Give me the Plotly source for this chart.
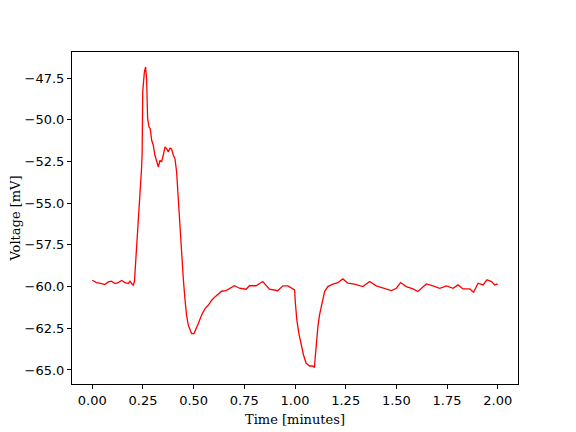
import plotly.graph_objects as go

# values
time_min = [
    0.000, 0.021, 0.046, 0.062, 0.079, 0.095, 0.112, 0.128, 0.145, 0.161,
    0.178, 0.186, 0.194, 0.202, 0.208, 0.211, 0.219, 0.227, 0.235, 0.243,
    0.246, 0.249, 0.257, 0.263, 0.268, 0.273, 0.280, 0.286, 0.293, 0.301,
    0.309, 0.317, 0.326, 0.334, 0.342, 0.350, 0.359, 0.367, 0.375, 0.383,
    0.391, 0.400, 0.408, 0.416, 0.424, 0.433, 0.441, 0.449, 0.457, 0.465,
    0.474, 0.482, 0.490, 0.502, 0.510, 0.523, 0.539, 0.556, 0.572, 0.589,
    0.605, 0.622, 0.638, 0.660, 0.680, 0.701, 0.726, 0.759, 0.775, 0.808,
    0.841, 0.874, 0.915, 0.940, 0.965, 0.998, 1.002, 1.009, 1.019, 1.031,
    1.042, 1.055, 1.072, 1.088, 1.096, 1.100, 1.105, 1.113, 1.121, 1.134,
    1.146, 1.162, 1.187, 1.211, 1.236, 1.261, 1.294, 1.335, 1.368, 1.401,
    1.434, 1.475, 1.500, 1.521, 1.549, 1.582, 1.606, 1.648, 1.681, 1.714,
    1.747, 1.780, 1.804, 1.829, 1.862, 1.881, 1.903, 1.928, 1.947, 1.969,
    1.985, 2.000,
]
voltage_mv = [
    -59.62, -59.76, -59.82, -59.88, -59.72, -59.68, -59.82, -59.76, -59.64, -59.76,
    -59.82, -59.68, -59.82, -59.92, -59.70, -59.12, -57.93, -56.33, -54.73, -52.93,
    -52.00, -48.30, -47.14, -46.84, -47.54, -49.94, -50.44, -50.54, -51.23, -51.53,
    -52.13, -52.43, -52.83, -52.43, -52.53, -52.13, -51.63, -51.73, -51.93, -51.70,
    -51.75, -52.13, -52.33, -53.13, -54.73, -56.53, -58.33, -59.53, -60.72, -61.72,
    -62.32, -62.62, -62.82, -62.82, -62.62, -62.22, -61.72, -61.32, -61.12, -60.82,
    -60.62, -60.42, -60.28, -60.24, -60.10, -59.95, -60.10, -60.16, -59.95, -59.95,
    -59.70, -60.16, -60.25, -59.96, -59.96, -60.20, -61.00, -62.00, -62.80, -63.50,
    -64.10, -64.60, -64.76, -64.76, -64.85, -64.20, -63.40, -62.40, -61.70, -61.00,
    -60.30, -60.00, -59.85, -59.77, -59.54, -59.80, -59.85, -60.00, -59.70, -59.96,
    -60.10, -60.24, -60.10, -59.76, -60.00, -60.14, -60.30, -59.84, -59.96, -60.10,
    -59.96, -60.10, -59.90, -60.14, -60.14, -60.34, -59.80, -59.90, -59.60, -59.70,
    -59.90, -59.84,
]

x_ticks = [0.0, 0.25, 0.5, 0.75, 1.0, 1.25, 1.5, 1.75, 2.0]
y_ticks = [-65.0, -62.5, -60.0, -57.5, -55.0, -52.5, -50.0, -47.5]

fig = go.Figure()
fig.add_trace(go.Scatter(
    x=time_min, y=voltage_mv,
    mode="lines",
    line=dict(color="red", width=1.3),
    showlegend=False,
))

axis_style = dict(
    showgrid=False, zeroline=False, automargin=False,
    showline=True, linecolor="black", linewidth=1, mirror=True,
    ticks="outside", ticklen=4, tickcolor="black", tickwidth=1,
    tickfont=dict(family="DejaVu Sans", size=13, color="black"),
)

# page body has an 8px margin, so the figure is a bit smaller than the window
fig.update_layout(
    width=568, height=424,
    margin=dict(l=64, r=58, t=44, b=48),
    paper_bgcolor="white", plot_bgcolor="white",
    xaxis=dict(
        range=[-0.1, 2.1],
        tickvals=x_ticks,
        ticktext=[f"{v:.2f}" for v in x_ticks],
        title=dict(text="Time [minutes]", standoff=8,
                   font=dict(family="DejaVu Serif", size=13, color="black")),
        **axis_style,
    ),
    yaxis=dict(
        range=[-65.84, -45.94],
        tickvals=y_ticks,
        ticktext=[f"{v:.1f}".replace("-", "\u2212") for v in y_ticks],
        title=dict(text="Voltage [mV]", standoff=8,
                   font=dict(family="DejaVu Serif", size=13, color="black")),
        **axis_style,
    ),
)

fig.write_html("out.html")
